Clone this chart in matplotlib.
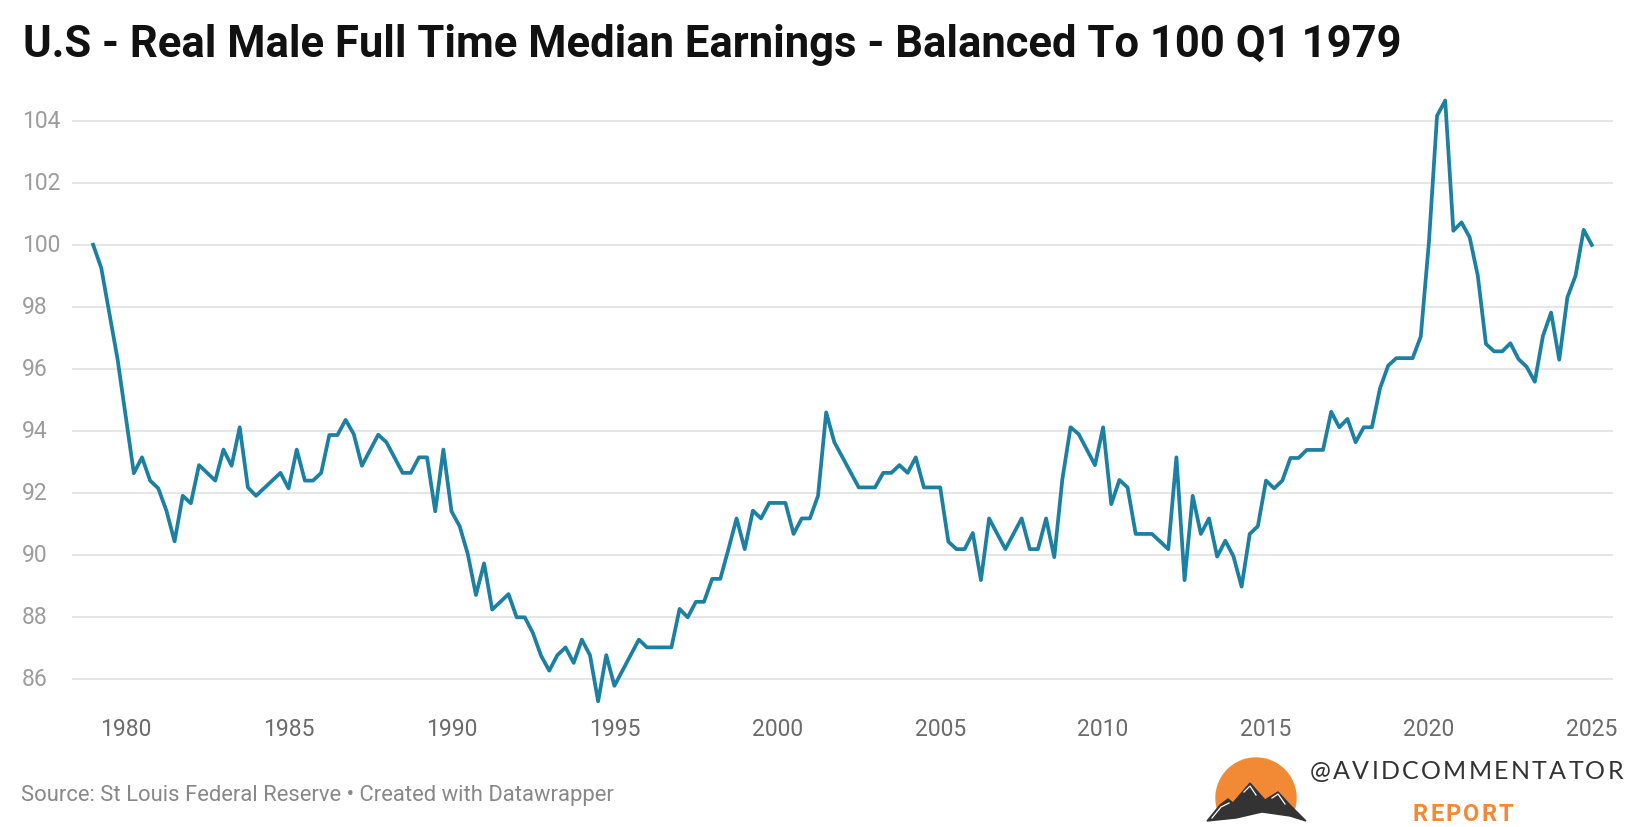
#!/usr/bin/env python3

import matplotlib
matplotlib.use("Agg")
import matplotlib.pyplot as plt
from matplotlib.patches import Circle, Polygon, Rectangle


# quarters where the line changes direction
quarters = [
    "1979Q1", "1979Q2", "1979Q4", "1980Q2", "1980Q3", "1980Q4",
    "1981Q1", "1981Q2", "1981Q3", "1981Q4", "1982Q1", "1982Q2", "1982Q4",
    "1983Q1", "1983Q2", "1983Q3", "1983Q4", "1984Q1", "1984Q4",
    "1985Q1", "1985Q2", "1985Q3", "1985Q4", "1986Q1", "1986Q2", "1986Q3",
    "1986Q4", "1987Q1", "1987Q2", "1987Q4", "1988Q1", "1988Q3", "1988Q4",
    "1989Q1", "1989Q2", "1989Q3", "1989Q4", "1990Q1", "1990Q2", "1990Q3",
    "1990Q4", "1991Q1", "1991Q2", "1991Q4", "1992Q1", "1992Q2", "1992Q3",
    "1992Q4", "1993Q1", "1993Q2", "1993Q3", "1993Q4", "1994Q1", "1994Q2",
    "1994Q3", "1994Q4", "1995Q1", "1995Q4", "1996Q1", "1996Q4",
    "1997Q1", "1997Q2", "1997Q3", "1997Q4", "1998Q1", "1998Q2", "1998Q3",
    "1998Q4", "1999Q1", "1999Q2", "1999Q3", "1999Q4", "2000Q2", "2000Q3",
    "2000Q4", "2001Q1", "2001Q2", "2001Q3", "2001Q4", "2002Q3", "2003Q1",
    "2003Q2", "2003Q3", "2003Q4", "2004Q1", "2004Q2", "2004Q3", "2005Q1",
    "2005Q2", "2005Q3", "2005Q4", "2006Q1", "2006Q2", "2006Q3", "2007Q1",
    "2007Q3", "2007Q4", "2008Q1", "2008Q2", "2008Q3", "2008Q4", "2009Q1",
    "2009Q2", "2009Q4", "2010Q1", "2010Q2", "2010Q3", "2010Q4", "2011Q1",
    "2011Q3", "2012Q1", "2012Q2", "2012Q3", "2012Q4", "2013Q1", "2013Q2",
    "2013Q3", "2013Q4", "2014Q1", "2014Q2", "2014Q3", "2014Q4", "2015Q1",
    "2015Q2", "2015Q3", "2015Q4", "2016Q1", "2016Q2", "2016Q4", "2017Q1",
    "2017Q2", "2017Q3", "2017Q4", "2018Q1", "2018Q2", "2018Q3", "2018Q4",
    "2019Q1", "2019Q3", "2019Q4", "2020Q1", "2020Q2", "2020Q3", "2020Q4",
    "2021Q1", "2021Q2", "2021Q3", "2021Q4", "2022Q1", "2022Q2", "2022Q3",
    "2022Q4", "2023Q1", "2023Q2", "2023Q3", "2023Q4", "2024Q1", "2024Q2",
    "2024Q3", "2024Q4", "2025Q1",
]

earnings_index = [
    100.0, 99.25, 96.31, 92.63, 93.14, 92.39,
    92.14, 91.42, 90.43, 91.90, 91.66, 92.89, 92.39,
    93.39, 92.87, 94.11, 92.17, 91.90, 92.64,
    92.14, 93.39, 92.39, 92.39, 92.64, 93.86, 93.86,
    94.35, 93.89, 92.87, 93.87, 93.63, 92.64, 92.64,
    93.14, 93.14, 91.40, 93.39, 91.40, 90.92, 90.02,
    88.70, 89.72, 88.23, 88.73, 87.98, 87.98, 87.47,
    86.74, 86.26, 86.76, 87.01, 86.51, 87.26, 86.76,
    85.27, 86.76, 85.77, 87.26, 87.01, 87.01,
    88.25, 87.98, 88.48, 88.48, 89.22, 89.22, 90.18,
    91.17, 90.18, 91.42, 91.17, 91.67, 91.67, 90.67,
    91.17, 91.17, 91.90, 94.59, 93.63, 92.17, 92.17,
    92.64, 92.64, 92.89, 92.64, 93.14, 92.17, 92.17,
    90.42, 90.18, 90.18, 90.70, 89.18, 91.17, 90.18,
    91.17, 90.18, 90.18, 91.17, 89.92, 92.44, 94.11,
    93.89, 92.89, 94.11, 91.63, 92.41, 92.17, 90.67,
    90.67, 90.18, 93.14, 89.18, 91.90, 90.67, 91.17,
    89.94, 90.45, 89.95, 88.97, 90.67, 90.92, 92.39,
    92.14, 92.39, 93.12, 93.12, 93.38, 93.38, 94.61,
    94.11, 94.38, 93.63, 94.11, 94.11, 95.37, 96.10,
    96.34, 96.34, 97.04, 100.08, 104.16, 104.65, 100.45,
    100.72, 100.24, 99.0, 96.80, 96.56, 96.56, 96.82,
    96.31, 96.06, 95.58, 97.06, 97.81, 96.29, 98.30,
    99.0, 100.48, 99.99,
]

x_ticks = [1980, 1985, 1990, 1995, 2000, 2005, 2010, 2015, 2020, 2025]
y_ticks = [86, 88, 90, 92, 94, 96, 98, 100, 102, 104]

TITLE = "U.S - Real Male Full Time Median Earnings - Balanced To 100 Q1 1979"
SOURCE = "Source: St Louis Federal Reserve \u2022 Created with Datawrapper"

W, H = 1640, 828


def quarter_to_year(q: str) -> float:
    """turn '1979Q1' into a decimal year at the start of the quarter"""
    year, qn = q.split("Q")
    return int(year) + (int(qn) - 1) / 4


def spaced_text(fig, lay, word, x0, x1, y, **kw) -> None:
    """write word letter by letter so it fills x0..x1 with even gaps"""
    renderer = fig.canvas.get_renderer()
    texts = [lay.text(0, y, ch, ha="left", va="center", **kw) for ch in word]
    widths = [t.get_window_extent(renderer).width for t in texts]
    gap = (x1 - x0 - sum(widths)) / (len(word) - 1)
    x = x0
    for t, w in zip(texts, widths):
        t.set_x(x)
        x += w + gap


def draw_logo(fig) -> None:
    """small sun + mountains badge and the handle text, bottom right"""
    lay = fig.add_axes([0, 0, 1, 1], zorder=5)
    lay.set_xlim(0, W)
    lay.set_ylim(H, 0)
    lay.axis("off")
    lay.patch.set_alpha(0)

    sun = Circle((1256, 799), 40, color="#f28a35", zorder=1)
    clip = Rectangle((1200, 750), 120, 60, transform=lay.transData)
    lay.add_patch(sun)
    sun.set_clip_path(clip)

    mountain = Polygon([
        (1207, 822), (1220, 806), (1228, 800), (1233, 804), (1250, 784),
        (1265, 801), (1278, 793), (1291, 807), (1306, 822), (1290, 817),
        (1262, 813), (1236, 819),
    ], closed=True, color="#333333", zorder=2)
    lay.add_patch(mountain)
    # snow streaks
    lay.plot([1212, 1221, 1229], [819, 808, 804], color="white", lw=0.9, zorder=3)
    lay.plot([1244, 1250, 1256], [793, 787, 796], color="white", lw=0.9, zorder=3)
    lay.plot([1272, 1278, 1285], [799, 795, 805], color="white", lw=0.9, zorder=3)

    spaced_text(fig, lay, "@AVIDCOMMENTATOR", 1310, 1623, 772,
                fontsize=18, family="Lato", color="#333333")
    spaced_text(fig, lay, "REPORT", 1413, 1513, 815,
                fontsize=17, family="Roboto", fontweight="bold", color="#f28a35")


def main() -> None:
    plt.rcParams["font.family"] = ["Roboto", "DejaVu Sans"]
    years = [quarter_to_year(q) for q in quarters]

    fig = plt.figure(figsize=(W / 100, H / 100), dpi=100)
    fig.patch.set_facecolor("white")

    # axes box in pixels: gridlines run 72..1613, y 85 at 710.7 and 105 at 90.7
    ax = fig.add_axes([72 / W, 1 - 710.7 / H, (1613 - 72) / W, 620 / H])
    ax.plot(years, earnings_index, color="#1b80a2", lw=2.7, zorder=3)

    ax.set_xlim(1978.352, 2025.65)
    ax.set_ylim(85, 105)
    ax.set_xticks(x_ticks)
    ax.set_xticklabels([str(y) for y in x_ticks], fontsize=16.5, color="#6b6b6b")
    ax.set_yticks(y_ticks)
    ax.set_yticklabels([])
    ax.tick_params(length=0, pad=5)
    ax.yaxis.grid(True, color="#e4e4e4", lw=1.3)
    ax.set_axisbelow(True)
    for side in ax.spines.values():
        side.set_visible(False)

    # y labels sit left aligned in the margin
    x_lab = (22 - 72) / (1613 - 72)
    for v in y_ticks:
        ax.text(x_lab, v, str(v), transform=ax.get_yaxis_transform(),
                ha="left", va="center", fontsize=16.5, color="#9c9c9c")

    fig.text(23 / W, 1 - 45 / H, TITLE, fontsize=31.4, fontweight="bold",
             color="#111111", ha="left", va="center")
    fig.text(21 / W, 1 - 796 / H, SOURCE, fontsize=15.8, color="#888888",
             ha="left", va="center")

    draw_logo(fig)

    fig.savefig("out.png", dpi=100)


if __name__ == "__main__":
    main()
